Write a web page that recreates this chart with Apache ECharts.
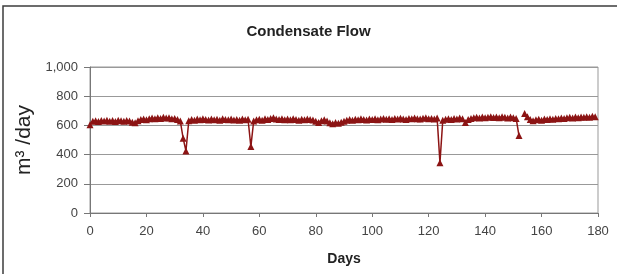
<!DOCTYPE html>
<html>
<head>
    <meta charset="utf-8">
    <title>Condensate Flow</title>
    <script src="https://cdn.jsdelivr.net/npm/echarts@6/dist/echarts.min.js"></script>
    <style>
        body { margin: 0; background: #fff; }
        #chart { width: 617px; height: 274px; }
    </style>
</head>
<body>
<div id="chart"></div>

<script>
    // x ticks (days) and y ticks
    var dayTicks = [0, 20, 40, 60, 80, 100, 120, 140, 160, 180]
    var flowTicks = [0, 200, 400, 600, 800, 1000]

    // daily condensate flow, m3/day (day 0 .. 180)
    var flow = [
        605,
        628, 632, 626, 634, 630, 636, 629, 633, 627, 635, 631, 628, 634, 630, 622,
        618, 632,
        640, 644, 638, 646, 650, 645, 652, 648, 655, 650, 653, 646, 648,
        640, 630, 512, 425, 632,
        640, 636, 643, 638, 645, 640, 637, 644, 639, 642, 636, 645, 640, 638, 643, 637, 641, 635, 644, 639, 642,
        455,
        630, 638, 642, 636, 645, 640, 648, 652, 644, 641, 646, 639, 643, 638, 645, 640, 636, 642, 638, 644, 640, 637,
        628, 620, 632, 638, 630,
        618, 612, 620, 615, 622, 628,
        635, 640, 636, 642, 638, 645, 640, 637, 644, 641, 646, 639, 643, 648, 642, 645, 640, 647, 643, 649,
        644, 641, 648, 645, 650, 646, 643, 649, 652, 645, 648, 644,
        650, 345, 635,
        642, 646, 640, 648, 644, 650, 645,
        620,
        640, 648, 652, 656, 650, 658, 653, 655, 660, 654, 657, 652, 659, 655, 651, 657, 653, 648,
        530, null, 682,
        660, 640, 632,
        638, 642, 636, 644, 640, 646, 642, 648, 645, 650, 647, 652, 655, 650, 657, 653, 658, 655, 660, 656, 662, 660
    ]

    var points = []
    for (let i = 0; i < flow.length; i++) {
        points.push([i, flow[i]])
    }

    function withComma(v) {
        return String(v).replace(/\B(?=(\d{3})+(?!\d))/g, ',')
    }

    var myChart = echarts.init(document.getElementById('chart'))

    myChart.setOption({
        animation: false,
        textStyle: { fontFamily: 'Liberation Sans, Arial, sans-serif' },
        // frame round the chart (left and top edges show)
        graphic: [{
            type: 'rect',
            shape: { x: 3, y: 6, width: 720, height: 320 },
            style: { fill: 'none', stroke: '#3c3c3c', lineWidth: 1.5 }
        }],
        title: {
            text: 'Condensate Flow',
            left: 'center',
            top: 19,
            textStyle: { fontSize: 15, fontWeight: 'bold', color: '#222' }
        },
        grid: {
            left: 90,
            right: 19,
            top: 67,
            bottom: 61,
            show: true,
            borderColor: '#999',
            borderWidth: 1
        },
        xAxis: {
            type: 'value',
            min: dayTicks[0],
            max: dayTicks[dayTicks.length - 1],
            interval: 20,
            name: 'Days',
            nameLocation: 'middle',
            nameGap: 39,
            nameTextStyle: { fontSize: 14, fontWeight: 'bold', color: '#222' },
            axisLine: { lineStyle: { color: '#777' } },
            axisTick: { show: true, length: 4, lineStyle: { color: '#777' } },
            axisLabel: { fontSize: 13, color: '#444', margin: 12 },
            splitLine: { show: false }
        },
        yAxis: {
            type: 'value',
            min: flowTicks[0],
            max: flowTicks[flowTicks.length - 1],
            interval: 200,
            name: 'm³ /day',
            nameLocation: 'middle',
            nameGap: 53,
            nameTextStyle: { fontSize: 21, color: '#222' },
            axisLine: { show: true, lineStyle: { color: '#777' } },
            axisTick: { show: true, length: 6, lineStyle: { color: '#777' } },
            axisLabel: { fontSize: 13, color: '#444', margin: 12, formatter: withComma },
            splitLine: { lineStyle: { color: '#999', width: 1 } }
        },
        series: [{
            name: 'Condensate Flow',
            type: 'line',
            data: points,
            connectNulls: false,
            symbol: 'triangle',
            symbolSize: 7,
            lineStyle: { color: '#8c1414', width: 1.5 },
            itemStyle: { color: '#8c1414' }
        }]
    })
</script>
</body>
</html>
